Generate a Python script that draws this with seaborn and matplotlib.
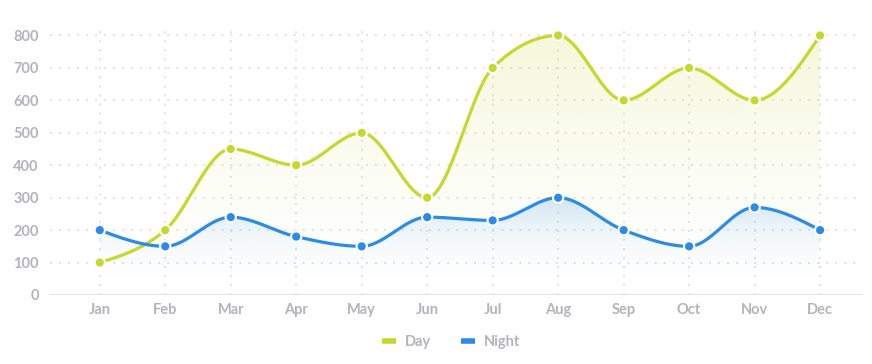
import numpy as np
import pandas as pd
import matplotlib
matplotlib.use("Agg")
import matplotlib.pyplot as plt
import seaborn as sns
from matplotlib.patches import Polygon
from matplotlib.lines import Line2D

months = ["Jan", "Feb", "Mar", "Apr", "May", "Jun", "Jul", "Aug", "Sep", "Oct", "Nov", "Dec"]
day = [100, 200, 450, 400, 500, 300, 700, 800, 600, 700, 600, 800]
night = [200, 150, 240, 180, 150, 240, 230, 300, 200, 150, 270, 200]

DAY_COLOR = "#c5d82c"
NIGHT_COLOR = "#2d8be8"
GRID_COLOR = "#dcdce3"
TEXT_COLOR = "#b3b3bd"


def monotone_curve(y, steps=40):
    # d3 curveMonotoneX style smoothing, for drawing only
    y = np.asarray(y, dtype=float)
    n = len(y)
    s = np.diff(y)
    t = np.zeros(n)
    for i in range(1, n - 1):
        s0, s1 = s[i - 1], s[i]
        p = (s0 + s1) / 2
        t[i] = (np.sign(s0) + np.sign(s1)) * min(abs(s0), abs(s1), 0.5 * abs(p))
    t[0] = (3 * s[0] - t[1]) / 2
    t[-1] = (3 * s[-1] - t[-2]) / 2
    xs, ys = [], []
    for i in range(n - 1):
        u = np.linspace(0, 1, steps, endpoint=(i == n - 2))
        p0 = (i, y[i])
        p1 = (i + 1 / 3, y[i] + t[i] / 3)
        p2 = (i + 2 / 3, y[i + 1] - t[i + 1] / 3)
        p3 = (i + 1, y[i + 1])
        b = [(1 - u) ** 3, 3 * u * (1 - u) ** 2, 3 * u ** 2 * (1 - u), u ** 3]
        xs.append(sum(bk * pk[0] for bk, pk in zip(b, (p0, p1, p2, p3))))
        ys.append(sum(bk * pk[1] for bk, pk in zip(b, (p0, p1, p2, p3))))
    return np.concatenate(xs), np.concatenate(ys)


def gradient_fill(ax, x, y, color, top_alpha, ymax, power):
    rgb = matplotlib.colors.to_rgb(color)
    h = 300
    img = np.zeros((h, 1, 4))
    img[:, 0, :3] = rgb
    frac = np.linspace(1, 0, h)
    img[:, 0, 3] = top_alpha * frac ** power
    verts = np.column_stack([np.r_[x[0], x, x[-1]], np.r_[0, y, 0]])
    poly = Polygon(verts, closed=True, facecolor="none", edgecolor="none")
    ax.add_patch(poly)
    im = ax.imshow(img, aspect="auto", extent=[x.min(), x.max(), 0, ymax],
                   origin="upper", zorder=1)
    im.set_clip_path(poly)


sns.set_theme(style="white")
plt.rcParams["font.family"] = ["Lato", "DejaVu Sans"]

fig = plt.figure(figsize=(8.72, 3.64), dpi=100)
ax = fig.add_axes([50 / 872, 1 - 295 / 364, 812 / 872, (295 - 29) / 364])

xd, yd = monotone_curve(day)
xn, yn = monotone_curve(night)

gradient_fill(ax, xd, yd, DAY_COLOR, 0.18, 800, 1.5)
gradient_fill(ax, xn, yn, NIGHT_COLOR, 0.22, 300, 2.5)

curves = pd.concat([
    pd.DataFrame({"x": xd, "y": yd, "series": "Day"}),
    pd.DataFrame({"x": xn, "y": yn, "series": "Night"}),
])
sns.lineplot(data=curves, x="x", y="y", hue="series", sort=False,
             palette={"Day": DAY_COLOR, "Night": NIGHT_COLOR},
             linewidth=2.3, legend=False, ax=ax, zorder=3)

points = pd.DataFrame({
    "x": list(range(len(months))) * 2,
    "y": day + night,
    "series": ["Day"] * len(months) + ["Night"] * len(months),
})
sns.scatterplot(data=points, x="x", y="y", hue="series",
                palette={"Day": DAY_COLOR, "Night": NIGHT_COLOR},
                s=55, edgecolor="white", linewidth=1.5, legend=False, ax=ax, zorder=4)

ax.set_xlim(-0.76, 11.64)
ax.set_ylim(0, 820)
ax.set_xticks(range(len(months)))
ax.set_xticklabels(months)
ax.set_yticks(range(0, 801, 100))
ax.set_xlabel("")
ax.set_ylabel("")

for yv in range(100, 801, 100):
    ax.axhline(yv, color=GRID_COLOR, linewidth=1.3, linestyle=(0, (1, 4)), zorder=0)
for xv in range(len(months)):
    ax.axvline(xv, color=GRID_COLOR, linewidth=1.3, linestyle=(0, (1, 4)), zorder=0)
ax.axhline(0, color="#e2e2e8", linewidth=1.5, zorder=2)

for side in ["top", "right", "left", "bottom"]:
    ax.spines[side].set_visible(False)
ax.tick_params(axis="both", length=0, colors=TEXT_COLOR, labelsize=10.5)
ax.tick_params(axis="x", pad=6)
ax.tick_params(axis="y", pad=8)
for lab in ax.get_xticklabels() + ax.get_yticklabels():
    lab.set_fontweight("bold")
    lab.set_color(TEXT_COLOR)

handles = [Line2D([], [], color=DAY_COLOR, linewidth=4, solid_capstyle="butt"),
           Line2D([], [], color=NIGHT_COLOR, linewidth=4, solid_capstyle="butt")]
leg = fig.legend(handles, ["Day", "Night"], loc="center", bbox_to_anchor=(451 / 872, 1 - 342 / 364),
                 ncol=2, frameon=False, handlelength=1.0, columnspacing=2.0,
                 handletextpad=0.6, prop={"weight": "bold", "size": 10.5})
for txt in leg.get_texts():
    txt.set_color(TEXT_COLOR)

fig.savefig("out.png", dpi=100, facecolor="white")
